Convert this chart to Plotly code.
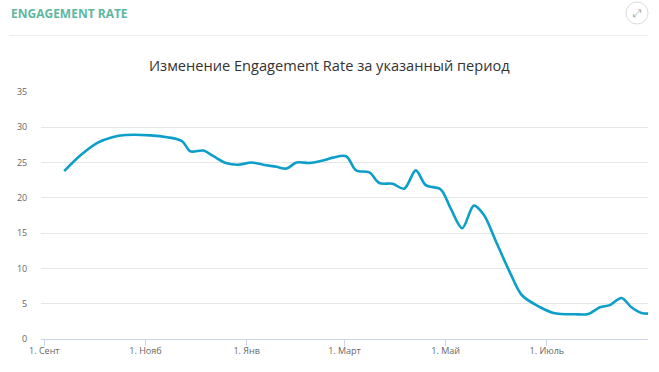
import plotly.graph_objects as go

dates = ["2017-09-13","2017-09-23","2017-10-03","2017-10-12","2017-10-20","2017-11-04","2017-11-14","2017-11-23","2017-11-28","2017-12-06","2017-12-12","2017-12-20","2017-12-27","2018-01-04","2018-01-11","2018-01-19","2018-01-25","2018-01-31","2018-02-08","2018-02-16","2018-02-22","2018-03-02","2018-03-08","2018-03-16","2018-03-22","2018-03-30","2018-04-06","2018-04-13","2018-04-19","2018-04-28","2018-05-04","2018-05-11","2018-05-18","2018-05-24","2018-05-31","2018-06-09","2018-06-16","2018-06-27","2018-07-05","2018-07-18","2018-07-26","2018-08-02","2018-08-08","2018-08-15","2018-08-21","2018-08-27","2018-08-31"]
rate = [23.8,26.07,27.8,28.6,28.9,28.86,28.6,28.05,26.6,26.7,25.9,24.9,24.7,25.0,24.7,24.4,24.15,25.0,24.95,25.3,25.7,25.9,23.9,23.6,22.1,22.0,21.3,23.9,21.8,21.2,18.5,15.7,18.9,17.6,14.0,9.3,6.2,4.5,3.7,3.5,3.55,4.5,4.8,5.8,4.5,3.7,3.6]
tick_dates = ["2017-09-01","2017-11-01","2018-01-01","2018-03-01","2018-05-01","2018-07-01"]
tick_labels = ["1. Сент","1. Нояб","1. Янв","1. Март","1. Май","1. Июль"]
y_ticks = [0,5,10,15,20,25,30,35]

W, H = 659, 372
L, R, T, B = 41, 648, 92, 339
px = lambda x: (x - L) / (R - L)
py = lambda y: (B - y) / (B - T)

fig = go.Figure(go.Scatter(
    x=dates, y=rate, mode="lines",
    line=dict(color="#0d9ec9", width=2.6, shape="spline", smoothing=0.9),
    hoverinfo="x+y", showlegend=False))

fig.update_layout(
    width=W, height=H, autosize=False,
    margin=dict(l=L, r=W - R, t=T, b=H - B, pad=0),
    paper_bgcolor="white", plot_bgcolor="white",
    font=dict(family="Open Sans, sans-serif", color="#666666", size=9),
    xaxis=dict(type="date", range=["2017-08-30", "2018-08-31"],
               tickvals=tick_dates, ticktext=tick_labels, showgrid=False,
               zeroline=False, showline=True, linecolor="#ccd6eb", linewidth=1,
               ticks="outside", ticklen=6, tickcolor="#ccd6eb", tickwidth=1,
               ticklabelstandoff=-3,
               tickfont=dict(size=9, color="#666666")),
    yaxis=dict(range=[0, 35], tickvals=y_ticks, showgrid=True, gridcolor="#e6e6e6",
               gridwidth=1, zeroline=False, showline=False,
               ticks="outside", ticklen=11, tickcolor="rgba(0,0,0,0)",
               tickfont=dict(size=9, color="#666666")),
    annotations=[
        dict(text="<b>ENGAGEMENT RATE</b>", xref="paper", yref="paper", x=px(9), y=py(14),
             xanchor="left", yanchor="middle", showarrow=False,
             font=dict(size=12, color="#5cb8a2")),
        dict(text="Изменение Engagement Rate за указанный период", xref="paper", yref="paper",
             x=px(329), y=py(65), xanchor="center", yanchor="middle", showarrow=False,
             font=dict(size=14.6, color="#333333")),
        dict(text="⤢", xref="paper", yref="paper", x=px(637), y=py(13),
             xanchor="center", yanchor="middle", showarrow=False,
             font=dict(size=11, color="#aaaaaa", family="DejaVu Sans")),
    ],
    shapes=[
        dict(type="line", xref="paper", yref="paper", x0=px(9), x1=px(648), y0=py(35.5), y1=py(35.5),
             line=dict(color="#eeeeee", width=1)),
        dict(type="circle", xref="paper", yref="paper", x0=px(626), x1=px(648), y0=py(2), y1=py(24),
             line=dict(color="#dddddd", width=1)),
    ],
)
fig.write_html("out.html", config=dict(displayModeBar=False),
               post_script="document.body.style.margin='0';")
